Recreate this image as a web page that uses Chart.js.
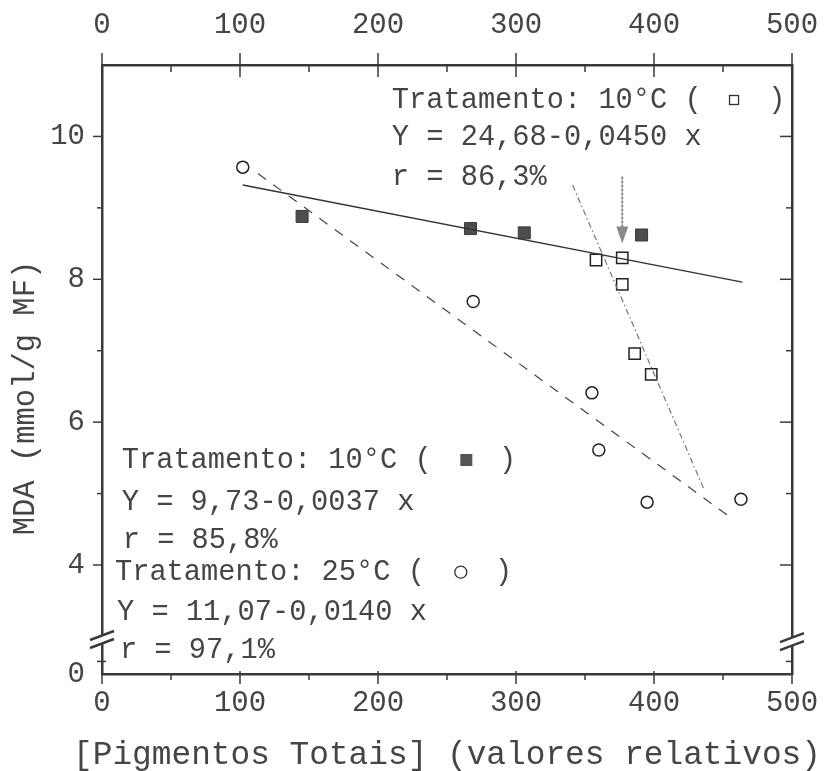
<!DOCTYPE html>
<html>
<head>
<meta charset="utf-8">
<script src="https://cdn.jsdelivr.net/npm/chart.js@4.4.1/dist/chart.umd.min.js"></script>
<style>
  html, body { margin: 0; padding: 0; background: #fff; }
  #wrap { width: 825px; height: 771px; }
</style>
</head>
<body>
<div id="wrap"><canvas id="chart" width="825" height="771"></canvas></div>
<script>
// axis ticks (the y axis is broken below 4, its bottom edge reads "0")
const X_TICKS = [0, 100, 200, 300, 400, 500];
const Y_TICKS = [4, 6, 8, 10];
const Y_MIN = 2.474;
const Y_MAX = 11;

// Tratamento 10 °C, filled squares
const sq10Filled = [
  { x: 145, y: 8.88 }, { x: 267, y: 8.71 }, { x: 306, y: 8.65 }, { x: 391, y: 8.62 },
];
// Tratamento 10 °C, open squares
const sq10Open = [
  { x: 358, y: 8.27 }, { x: 377, y: 8.30 }, { x: 377, y: 7.93 }, { x: 386, y: 6.96 }, { x: 398, y: 6.67 },
];
// Tratamento 25 °C, open circles
const circ25 = [
  { x: 102, y: 9.57 }, { x: 269, y: 7.69 }, { x: 355, y: 6.41 }, { x: 360, y: 5.61 },
  { x: 395, y: 4.88 }, { x: 463, y: 4.92 },
];

// fitted lines, end points as drawn
const fitFilled = [{ x: 102, y: 9.32 }, { x: 464, y: 7.96 }];
const fitCirc = [{ x: 113, y: 9.48 }, { x: 458, y: 4.63 }];
const fitOpen = [{ x: 341, y: 9.32 }, { x: 436, y: 5.07 }];

// grey arrow over the open squares
const arrowX = 377;
const arrowFrom = 9.44;
const arrowTo = 8.50;

const X_TITLE = '[Pigmentos Totais] (valores relativos)';
const Y_TITLE = 'MDA (mmol/g MF)';

// annotation text, placed in data units
const notes = [
  { x: 210, y: 10.51, text: 'Tratamento: 10°C (' },
  { x: 210, y: 9.98, text: 'Y = 24,68-0,0450 x' },
  { x: 210, y: 9.43, text: 'r = 86,3%' },
  { x: 14.3, y: 5.47, text: 'Tratamento: 10°C (' },
  { x: 14.3, y: 4.87, text: 'Y = 9,73-0,0037 x' },
  { x: 15, y: 4.35, text: 'r = 85,8%' },
  { x: 9.4, y: 3.90, text: 'Tratamento: 25°C (' },
  { x: 10.9, y: 3.33, text: 'Y = 11,07-0,0140 x' },
  { x: 13, y: 2.81, text: 'r = 97,1%' },
];
// closing brackets and symbols of the legends inside the notes
const noteClose = [
  { x: 489, y: 10.51 }, { x: 294, y: 5.47 }, { x: 291, y: 3.90 },
];
const noteSymbols = [
  { x: 458, y: 10.51, kind: 'open' },
  { x: 264, y: 5.47, kind: 'filled' },
  { x: 260, y: 3.90, kind: 'circle' },
];

const INK = '#454545';
const AXIS = '#3a3a3a';
const MONO = "'Liberation Mono', 'DejaVu Sans Mono', monospace";

const axisDecor = {
  id: 'axisDecor',
  afterDraw(chart) {
    const { ctx, chartArea: a, scales: { x, y } } = chart;
    const seg = (x1, y1, x2, y2) => { ctx.beginPath(); ctx.moveTo(x1, y1); ctx.lineTo(x2, y2); ctx.stroke(); };
    ctx.save();
    ctx.strokeStyle = AXIS;
    ctx.lineWidth = 1.5;

    // tick marks, majors and minors
    for (let v = 0; v <= 500; v += 50) {
      const px = x.getPixelForValue(v);
      const major = v % 100 === 0;
      seg(px, a.bottom - (major ? 3 : 0), px, a.bottom + (major ? 10 : 6));
      seg(px, a.top - (major ? 12 : 0), px, a.top + (major ? 12 : 7));
    }
    for (let v = 4; v < 11; v += 1) {
      const py = y.getPixelForValue(v);
      const major = v % 2 === 0;
      seg(a.left - (major ? 9 : 5), py, a.left, py);
      seg(a.right - (major ? 12 : 6), py, a.right, py);
    }
    const p0 = y.getPixelForValue(2.65);
    seg(a.left - 5, p0, a.left + 4, p0);
    seg(a.right - 6, p0, a.right, p0);

    // axis break marks
    const breakMark = (cx, cy) => {
      ctx.fillStyle = '#fff';
      ctx.beginPath();
      ctx.moveTo(cx - 12, cy + 0); ctx.lineTo(cx + 12, cy - 9);
      ctx.lineTo(cx + 12, cy - 1); ctx.lineTo(cx - 12, cy + 8);
      ctx.closePath(); ctx.fill();
      ctx.lineWidth = 2.5;
      seg(cx - 12, cy + 0, cx + 12, cy - 9);
      seg(cx - 12, cy + 8, cx + 12, cy - 1);
      ctx.lineWidth = 1.5;
    };
    breakMark(a.left, y.getPixelForValue(2.95));
    breakMark(a.right, y.getPixelForValue(2.92));

    // arrow
    const ax = x.getPixelForValue(arrowX);
    const ay1 = y.getPixelForValue(arrowFrom);
    const ay2 = y.getPixelForValue(arrowTo);
    ctx.strokeStyle = '#8a8a8a';
    ctx.fillStyle = '#8a8a8a';
    ctx.lineWidth = 2;
    ctx.setLineDash([3, 1]);
    seg(ax, ay1, ax, ay2 - 14);
    ctx.setLineDash([]);
    ctx.beginPath();
    ctx.moveTo(ax - 6, ay2 - 17); ctx.lineTo(ax + 6, ay2 - 17); ctx.lineTo(ax, ay2);
    ctx.closePath(); ctx.fill();

    // notes
    ctx.fillStyle = INK;
    ctx.font = '28.7px ' + MONO;
    ctx.textBaseline = 'middle';
    ctx.textAlign = 'left';
    notes.forEach(n => ctx.fillText(n.text, x.getPixelForValue(n.x), y.getPixelForValue(n.y)));
    ctx.textAlign = 'center';
    noteClose.forEach(n => ctx.fillText(')', x.getPixelForValue(n.x), y.getPixelForValue(n.y)));

    noteSymbols.forEach(s => {
      const sx = x.getPixelForValue(s.x);
      const sy = y.getPixelForValue(s.y);
      ctx.lineWidth = 1.3;
      ctx.strokeStyle = '#333';
      if (s.kind === 'filled') {
        ctx.fillStyle = '#555';
        ctx.fillRect(sx - 6, sy - 6, 12, 12);
      } else if (s.kind === 'open') {
        ctx.strokeRect(sx - 4.5, sy - 4.5, 9, 9);
      } else {
        ctx.beginPath(); ctx.arc(sx, sy, 6, 0, Math.PI * 2); ctx.stroke();
      }
    });

    // axis titles (drawn here so the x title is not squeezed to the plot width)
    ctx.fillStyle = INK;
    ctx.textAlign = 'center';
    ctx.textBaseline = 'middle';
    ctx.font = '32.8px ' + MONO;
    ctx.fillText(X_TITLE, (a.left + a.right) / 2, 755);

    ctx.save();
    ctx.translate(26, 398);
    ctx.rotate(-Math.PI / 2);
    ctx.font = '30.5px ' + MONO;
    ctx.fillText(Y_TITLE, 0, 0);
    ctx.restore();

    ctx.restore();
  }
};

const tickFont = { family: MONO, size: 29 };
const border = { display: true, color: AXIS, width: 2.5 };

function xScale(position, padding, height) {
  return {
    type: 'linear',
    position,
    min: 0,
    max: 500,
    afterBuildTicks: s => { s.ticks = X_TICKS.map(v => ({ value: v })); },
    ticks: { font: tickFont, color: INK, padding, maxRotation: 0, autoSkip: false },
    grid: { display: false, drawTicks: false },
    border,
    afterFit: s => {
      s.height = height;
      // end labels may overhang the plot; keep the plot box fixed
      s.paddingLeft = 0;
      s.paddingRight = 0;
    },
  };
}

function yScale(position, width, showLabels) {
  return {
    type: 'linear',
    position,
    min: Y_MIN,
    max: Y_MAX,
    afterBuildTicks: s => { s.ticks = [Y_MIN, ...Y_TICKS].map(v => ({ value: v })); },
    ticks: {
      display: showLabels,
      font: tickFont,
      color: INK,
      padding: 17,
      callback: v => (v === Y_MIN ? '0' : String(v)),
    },
    grid: { display: false, drawTicks: false },
    border,
    afterFit: s => {
      s.width = width;
      s.paddingTop = 0;
      s.paddingBottom = 0;
    },
  };
}

new Chart(document.getElementById('chart'), {
  type: 'scatter',
  data: {
    datasets: [
      {
        label: 'ajuste 10 °C (cheio)',
        data: fitFilled,
        showLine: true,
        borderColor: '#333',
        borderWidth: 1.3,
        pointRadius: 0,
      },
      {
        label: 'ajuste 25 °C',
        data: fitCirc,
        showLine: true,
        borderColor: '#444',
        borderWidth: 1.2,
        borderDash: [10, 9],
        pointRadius: 0,
      },
      {
        label: 'ajuste 10 °C (aberto)',
        data: fitOpen,
        showLine: true,
        borderColor: '#777',
        borderWidth: 1.2,
        borderDash: [6, 3, 1.5, 3],
        pointRadius: 0,
      },
      {
        label: '10 °C ■',
        data: sq10Filled,
        pointStyle: 'rect',
        pointRadius: 8.5,
        backgroundColor: '#4d4d4d',
        borderColor: '#3a3a3a',
        borderWidth: 1,
      },
      {
        label: '10 °C □',
        data: sq10Open,
        pointStyle: 'rect',
        pointRadius: 8,
        backgroundColor: '#fff',
        borderColor: '#222',
        borderWidth: 1.5,
      },
      {
        label: '25 °C ○',
        data: circ25,
        pointStyle: 'circle',
        pointRadius: 6,
        backgroundColor: '#fff',
        borderColor: '#222',
        borderWidth: 1.5,
      },
    ],
  },
  options: {
    responsive: false,
    animation: false,
    layout: { padding: 0 },
    plugins: { legend: { display: false }, tooltip: { enabled: false } },
    scales: {
      x: xScale('bottom', 12, 97),
      x2: xScale('top', 22, 65),
      y: yScale('left', 102, true),
      y2: yScale('right', 33, false),
    },
  },
  plugins: [axisDecor],
});
</script>
</body>
</html>
